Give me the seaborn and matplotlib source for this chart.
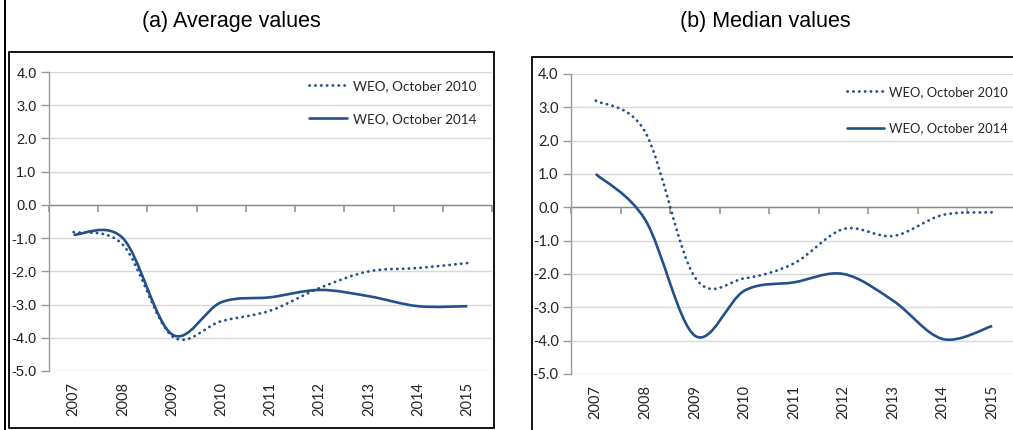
import numpy as np
import seaborn as sns
import matplotlib.pyplot as plt
from matplotlib.path import Path
from matplotlib.patches import PathPatch, Rectangle
from matplotlib.lines import Line2D

years = [2007, 2008, 2009, 2010, 2011, 2012, 2013, 2014, 2015]

# (a) average values
avg_weo2010 = [-0.82, -1.2, -3.95, -3.5, -3.18, -2.5, -2.0, -1.9, -1.75]
avg_weo2014 = [-0.9, -1.0, -3.9, -2.93, -2.78, -2.56, -2.75, -3.05, -3.05]

# (b) median values
med_weo2010 = [3.2, 2.25, -2.1, -2.13, -1.68, -0.65, -0.86, -0.23, -0.15]
med_weo2014 = [1.0, -0.38, -3.85, -2.5, -2.25, -2.0, -2.8, -3.95, -3.56]

labels = ["WEO, October 2010", "WEO, October 2014"]
titles = ["(a) Average values", "(b) Median values"]

sns.set_theme(style="white")
plt.rcParams["axes.unicode_minus"] = False
plt.rcParams["font.family"] = ["Liberation Sans", "DejaVu Sans"]

BLUE = "#23508a"
W, H = 1013, 430


def smooth_path(x, y):
    # excel style smoothed line: cubic bezier through every point
    x = np.asarray(x, float)
    y = np.asarray(y, float)
    n = len(x)
    verts = [(x[0], y[0])]
    codes = [Path.MOVETO]
    for i in range(n - 1):
        i0 = max(i - 1, 0)
        i3 = min(i + 2, n - 1)
        c1 = (x[i] + (x[i + 1] - x[i0]) / 6, y[i] + (y[i + 1] - y[i0]) / 6)
        c2 = (x[i + 1] - (x[i3] - x[i]) / 6, y[i + 1] - (y[i3] - y[i]) / 6)
        verts += [c1, c2, (x[i + 1], y[i + 1])]
        codes += [Path.CURVE4] * 3
    return Path(verts, codes)


def fig_rect(l, t, r, b):
    return [l / W, 1 - b / H, (r - l) / W, (b - t) / H]


fig = plt.figure(figsize=(W / 100, H / 100), dpi=100)

# frames around the two panels
fig.patches.append(Rectangle((3.5 / W, 0), 2.5 / W, 1, transform=fig.transFigure,
                             color="black", lw=0))
fig.patches.append(Rectangle((9 / W, 1 - 428 / H), 485 / W, 376 / H, transform=fig.transFigure,
                             fill=False, ec="black", lw=1.3))
fig.patches.append(Rectangle((532 / W, -0.05), 0.6, 1 - 57 / H + 0.05, transform=fig.transFigure,
                             fill=False, ec="black", lw=1.3))

panels = [
    (fig_rect(49, 72, 492, 371), avg_weo2010, avg_weo2014, "Liberation Sans",
     (309, 80), 1.55, 9.7, 231),
    (fig_rect(571, 74, 1017, 374), med_weo2010, med_weo2014, "Lato",
     (847, 86), 1.85, 9.4, 765),
]

for k, (rect, s10, s14, yfont, leg_xy, lsp, lfs, tx) in enumerate(panels):
    ax = fig.add_axes(rect)
    ax.set_xlim(2006.5, 2015.5)
    ax.set_ylim(-5, 4)
    ax.set_facecolor("white")

    ax.set_yticks(np.arange(-5, 5))
    ax.set_yticklabels([f"{v:.1f}" for v in np.arange(-5, 5)], fontsize=10.5,
                       family=yfont, color="#222222")
    ax.tick_params(axis="y", length=6, color="#9a9a9a", width=1, pad=3, left=True)
    ax.grid(axis="y", color="#d9d9d9", lw=1)
    ax.grid(axis="x", visible=False)

    ax.set_xticks(years)
    ax.set_xticklabels([str(y) for y in years], rotation=90, fontsize=10.5,
                       family="Lato", color="#222222")
    ax.tick_params(axis="x", length=0, pad=8)

    for s in ["top", "right", "bottom"]:
        ax.spines[s].set_visible(False)
    ax.spines["left"].set_color("#9a9a9a")
    ax.spines["left"].set_linewidth(1)

    # zero axis with category boundary ticks
    ax.axhline(0, color="#8a8a8a", lw=1, zorder=2)
    zero = ax.secondary_xaxis(5 / 9)
    zero.set_xticks(np.arange(2006.5, 2016, 1.0))
    zero.set_xticklabels([])
    zero.tick_params(length=5, color="#9a9a9a", direction="in")
    for s in ["top", "bottom", "left", "right"]:
        zero.spines[s].set_visible(False)

    ax.add_patch(PathPatch(smooth_path(years, s10), fill=False, ec=BLUE, lw=2.0,
                           ls=(0, (0.1, 2.0)), capstyle="round", zorder=3))
    ax.add_patch(PathPatch(smooth_path(years, s14), fill=False, ec=BLUE, lw=1.9,
                           zorder=3))

    handles = [Line2D([], [], color=BLUE, lw=2.0, ls=(0, (0.1, 2.0)),
                      dash_capstyle="round"),
               Line2D([], [], color=BLUE, lw=1.9)]
    ax.legend(handles, labels, loc="upper left",
              bbox_to_anchor=(leg_xy[0] / W, 1 - leg_xy[1] / H),
              bbox_transform=fig.transFigure, frameon=False, borderpad=0,
              borderaxespad=0, handlelength=2.8, handletextpad=0.45,
              labelspacing=lsp, prop={"family": "Lato", "size": lfs})

    fig.text(tx / W, 1 - 22 / H, titles[k], ha="center", va="center",
             fontsize=15.5, family="Liberation Sans", color="black")

fig.savefig("out.png", dpi=100)
